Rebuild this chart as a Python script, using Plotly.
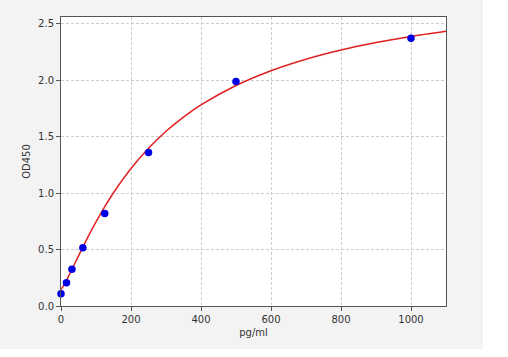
import plotly.graph_objects as go

# Standard points
conc = [0, 15.6, 31.25, 62.5, 125, 250, 500, 1000]
od = [0.109, 0.207, 0.325, 0.517, 0.82, 1.36, 1.99, 2.373]

# Fitted curve
curve_x = [0, 5, 10, 20, 30, 40, 50, 75, 100, 125, 150, 200, 250, 300, 350, 400,
           500, 600, 700, 800, 900, 1000, 1100]
curve_y = [0.148, 0.169, 0.195, 0.254, 0.317, 0.381, 0.444, 0.600, 0.745, 0.880, 1.004,
           1.219, 1.398, 1.549, 1.675, 1.783, 1.955, 2.086, 2.188, 2.269, 2.335, 2.390, 2.436]

x_ticks = [0, 200, 400, 600, 800, 1000]
y_ticks = [0.0, 0.5, 1.0, 1.5, 2.0, 2.5]

fig = go.Figure()
fig.add_trace(go.Scatter(x=curve_x, y=curve_y, mode="lines",
                         line=dict(color="#e02020", width=1.5, shape="spline", smoothing=0.8),
                         hoverinfo="skip", showlegend=False))
fig.add_trace(go.Scatter(x=conc, y=od, mode="markers",
                         marker=dict(color="#0000e6", size=7.5), showlegend=False, cliponaxis=False))

L, R, T, B = 61, 62, 17, 51
W, H = 508, 357
pw, ph = W - L - R, H - T - B

def px_x(p):
    return (p - L) / pw

def px_y(p):
    return (H - B - p) / ph

fig.add_shape(type="rect", xref="paper", yref="paper", layer="below",
              x0=px_x(483), x1=px_x(515), y0=px_y(-10), y1=px_y(365),
              fillcolor="white", line=dict(width=0))
fig.add_shape(type="rect", xref="paper", yref="paper", layer="below",
              x0=px_x(-10), x1=px_x(515), y0=px_y(349), y1=px_y(365),
              fillcolor="white", line=dict(width=0))

axis_common = dict(showline=True, linecolor="#555555", linewidth=1, mirror=True,
                   ticks="outside", ticklen=4, tickcolor="#555555",
                   showgrid=True, gridcolor="#cccccc", griddash="3px,2px", gridwidth=1,
                   zeroline=False, tickfont=dict(family="DejaVu Sans", size=10, color="#333333"))

fig.update_xaxes(range=[0, 1100], tickvals=x_ticks, ticktext=[str(v) for v in x_ticks],
                 title=dict(text="pg/ml", font=dict(family="DejaVu Sans", size=10, color="#333333"), standoff=4),
                 **axis_common)
fig.update_yaxes(range=[0, 2.562], tickvals=y_ticks, ticktext=[f"{v:.1f}" for v in y_ticks],
                 title=dict(text="OD450", font=dict(family="DejaVu Sans", size=10, color="#333333"), standoff=5),
                 **axis_common)

fig.update_layout(width=W, height=H, margin=dict(l=L, r=R, t=T, b=B),
                  paper_bgcolor="#f3f3f3", plot_bgcolor="white")

fig.write_html("out.html")
